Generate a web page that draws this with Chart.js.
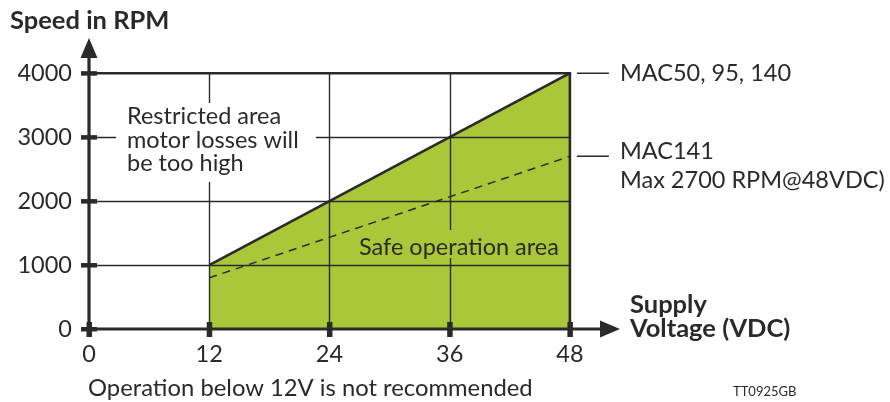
<!DOCTYPE html>
<html>
<head>
<meta charset="utf-8">
<script src="https://cdn.jsdelivr.net/npm/chart.js@4.4.1/dist/chart.umd.min.js"></script>
<style>
  html, body { margin: 0; padding: 0; background: #ffffff; }
  #wrap { position: relative; width: 890px; height: 402px; }
</style>
</head>
<body>
<div id="wrap"><canvas id="chart" width="890" height="402"></canvas></div>
<script>
// Supply voltage (VDC) at the ends of the speed limit lines
const voltage = [12, 48];
// Maximum speed (RPM), MAC50 / MAC95 / MAC140
const mac50Speed = [1000, 4000];
// Maximum speed (RPM), MAC141
const mac141Speed = [800, 2700];
// Axis ticks
const xTicks = [0, 12, 24, 36, 48];
const yTicks = [0, 1000, 2000, 3000, 4000];
// Gridlines drawn inside the diagram
const xGrid = [12, 24, 36, 48];
const yGrid = [1000, 2000, 3000, 4000];

const INK = '#2a2a2a';
const GREEN = '#a9c738';
const FONT = 'Lato, "Open Sans", sans-serif';
const TXT = 23.5;

const toPoints = (xs, ys) => xs.map((x, i) => ({ x: x, y: ys[i] }));

function text(ctx, str, x, y, size, weight, align, baseline, color) {
  ctx.font = (weight || 'normal') + ' ' + size + 'px ' + FONT;
  ctx.textAlign = align || 'left';
  ctx.textBaseline = baseline || 'alphabetic';
  ctx.fillStyle = color || INK;
  ctx.fillText(str, x, y);
}

const diagram = {
  id: 'diagram',
  afterDatasetDraw(chart, args) {
    if (args.index !== 0) return;
    // gridlines sit above the green area but below the limit lines
    const { ctx, scales: { x, y } } = chart;
    const x0 = x.getPixelForValue(0);
    const yTop = y.getPixelForValue(4000);
    const yBot = y.getPixelForValue(0);
    const xEnd = x.getPixelForValue(48);
    ctx.save();
    ctx.strokeStyle = INK;
    ctx.lineWidth = 1.4;
    xGrid.forEach(v => {
      if (v === 48) return;
      const px = Math.round(x.getPixelForValue(v)) + 0.5;
      ctx.beginPath(); ctx.moveTo(px, yTop); ctx.lineTo(px, yBot); ctx.stroke();
    });
    yGrid.forEach(v => {
      if (v === 4000) return;
      const py = Math.round(y.getPixelForValue(v)) + 0.5;
      ctx.beginPath(); ctx.moveTo(x0, py); ctx.lineTo(xEnd, py); ctx.stroke();
    });
    // frame of the 4000 RPM level and the 48 V limit
    ctx.lineWidth = 2.6;
    ctx.beginPath();
    ctx.moveTo(x0, yTop); ctx.lineTo(xEnd, yTop); ctx.lineTo(xEnd, yBot);
    ctx.stroke();
    ctx.restore();
  },
  afterDatasetsDraw(chart) {
    const { ctx, chartArea, scales: { x, y } } = chart;
    const x0 = x.getPixelForValue(0);
    const y0 = y.getPixelForValue(0);
    ctx.save();

    // text blocks with knocked-out background
    ctx.fillStyle = '#ffffff';
    ctx.fillRect(116, 103, 200, 79);
    text(ctx, 'Restricted area', 127, 124, TXT);
    text(ctx, 'motor losses will', 127, 147.5, TXT);
    text(ctx, 'be too high', 127, 171, TXT);

    ctx.fillStyle = GREEN;
    ctx.fillRect(356, 230, 206, 28);
    text(ctx, 'Safe operation area', 359, 255, TXT);

    // axes
    ctx.strokeStyle = INK;
    ctx.fillStyle = INK;
    ctx.lineWidth = 3.2;
    ctx.beginPath();
    ctx.moveTo(x0, y0 + 4); ctx.lineTo(x0, chartArea.top + 16);
    ctx.stroke();
    ctx.beginPath();
    ctx.moveTo(x0 - 4, y0); ctx.lineTo(chartArea.right - 16, y0);
    ctx.stroke();
    // arrow heads
    ctx.beginPath();
    ctx.moveTo(x0, chartArea.top);
    ctx.lineTo(x0 - 8.5, chartArea.top + 20);
    ctx.lineTo(x0 + 8.5, chartArea.top + 20);
    ctx.closePath(); ctx.fill();
    ctx.beginPath();
    ctx.moveTo(chartArea.right, y0);
    ctx.lineTo(chartArea.right - 20, y0 - 8.5);
    ctx.lineTo(chartArea.right - 20, y0 + 8.5);
    ctx.closePath(); ctx.fill();
    // tick marks
    yTicks.forEach(v => {
      const py = y.getPixelForValue(v);
      ctx.fillRect(x0 - 8, py - 2, 16, 4.5);
    });
    xTicks.forEach(v => {
      const px = x.getPixelForValue(v);
      ctx.fillRect(px - 2.5, y0 - 7, 5.5, 15);
    });

    // series labels with leader lines
    const xr = x.getPixelForValue(48);
    const yA = y.getPixelForValue(mac50Speed[1]);
    const yB = y.getPixelForValue(mac141Speed[1]);
    ctx.lineWidth = 1.4;
    ctx.beginPath(); ctx.moveTo(xr + 7, yA); ctx.lineTo(xr + 39, yA); ctx.stroke();
    ctx.beginPath(); ctx.moveTo(xr + 7, yB); ctx.lineTo(xr + 39, yB); ctx.stroke();
    text(ctx, 'MAC50, 95, 140', 620, yA, TXT, 'normal', 'left', 'middle');
    text(ctx, 'MAC141', 620, 151, TXT, 'normal', 'left', 'middle');
    text(ctx, 'Max 2700 RPM@48VDC)', 620, 180, TXT, 'normal', 'left', 'middle');

    // axis titles and notes
    text(ctx, 'Speed in RPM', 10, 29, 25.5, 'bold');
    text(ctx, 'Supply', 630, 313, 25.5, 'bold');
    text(ctx, 'Voltage (VDC)', 630, 337, 25.5, 'bold');
    text(ctx, 'Operation below 12V is not recommended', 88, 396, 23.8);
    text(ctx, 'TT0925GB', 733, 396, 13);
    ctx.restore();
  }
};

new Chart(document.getElementById('chart'), {
  type: 'line',
  data: {
    datasets: [
      {
        label: 'Safe operation area',
        data: toPoints(voltage, mac50Speed),
        fill: 'origin',
        backgroundColor: GREEN,
        borderWidth: 0,
        borderColor: 'rgba(0,0,0,0)',
        pointRadius: 0,
        order: 3
      },
      {
        label: 'MAC50, 95, 140',
        data: toPoints(voltage, mac50Speed),
        fill: false,
        borderColor: INK,
        borderWidth: 2.6,
        pointRadius: 0,
        order: 2
      },
      {
        label: 'MAC141',
        data: toPoints(voltage, mac141Speed),
        fill: false,
        borderColor: INK,
        borderWidth: 1.5,
        borderDash: [8, 6],
        pointRadius: 0,
        order: 1
      }
    ]
  },
  options: {
    responsive: false,
    animation: false,
    events: [],
    layout: { padding: { top: 38, right: 270, bottom: 0, left: 0 } },
    plugins: { legend: { display: false }, tooltip: { enabled: false } },
    scales: {
      x: {
        type: 'linear',
        min: 0,
        max: 53,
        grid: { display: false, drawTicks: false },
        border: { display: false },
        afterBuildTicks: s => { s.ticks = xTicks.map(v => ({ value: v })); },
        afterFit: s => { s.height = 73; },
        ticks: {
          autoSkip: false,
          maxRotation: 0,
          padding: 11,
          color: INK,
          font: { family: FONT, size: TXT },
          callback: v => String(v)
        }
      },
      y: {
        type: 'linear',
        min: 0,
        max: 4550,
        grid: { display: false, drawTicks: false },
        border: { display: false },
        afterBuildTicks: s => { s.ticks = yTicks.map(v => ({ value: v })); },
        afterFit: s => { s.width = 89; },
        ticks: {
          autoSkip: false,
          padding: 17,
          color: INK,
          font: { family: FONT, size: TXT },
          callback: v => String(v)
        }
      }
    }
  },
  plugins: [diagram]
});
</script>
</body>
</html>
